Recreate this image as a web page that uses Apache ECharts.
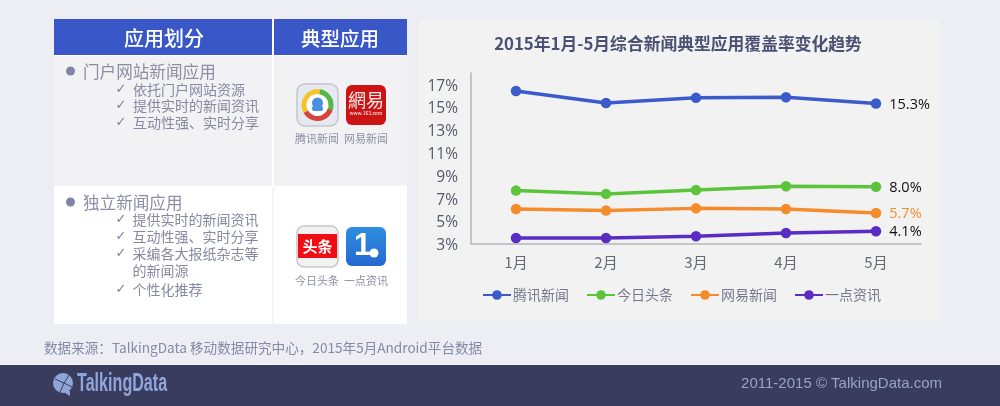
<!DOCTYPE html>
<html><head><meta charset="utf-8">
<style>html,body{margin:0;padding:0;background:#eceef3}#c{width:1000px;height:406px}</style>
<script src="https://cdn.jsdelivr.net/npm/echarts@6/dist/echarts.min.js"></script>
</head><body><div id="c"></div>
<script>
const categories = ['1月','2月','3月','4月','5月'];
const tencent = [16.4,15.35,15.8,15.85,15.3];
const toutiao = [7.66,7.37,7.72,8.04,8.0];
const netease = [6.04,5.92,6.1,6.04,5.7];
const yidian = [3.5,3.5,3.65,3.94,4.1];
const endLabels = ['15.3%','8.0%','5.7%','4.1%'];
const seriesNames = ['腾讯新闻','今日头条','网易新闻','一点资讯'];
const headers = ['应用划分','典型应用'];
const group1 = '门户网站新闻应用';
const group1Items = ['依托门户网站资源','提供实时的新闻资讯','互动性强、实时分享'];
const group2 = '独立新闻应用';
const group2Items = ['提供实时的新闻资讯','互动性强、实时分享','采编各大报纸杂志等','的新闻源','个性化推荐'];
const titleText = '2015年1月-5月综合新闻典型应用覆盖率变化趋势';
const sourceText = '数据来源：TalkingData 移动数据研究中心，2015年5月Android平台数据';
const footerText = '2011-2015 © TalkingData.com';
const logoText = 'TalkingData';

const CJK = '"Noto Sans CJK SC","Noto Sans",sans-serif';
const colors = ['#3a5bc9','#5cc43c','#f58c2b','#5a2cc4'];
const rect = (x,y,w,h,fill,r,stroke) => ({type:'rect',shape:{x,y,width:w,height:h,r:r||0},style:{fill,stroke:stroke||null,lineWidth:stroke?1.5:0}});
const txt = (x,y,text,size,fill,opt) => ({type:'text',x,y,style:Object.assign({text,fill,font:`${size}px ${CJK}`,textAlign:'left',textVerticalAlign:'middle'},opt||{})});
const sector = (cx,cy,r0,r,a,b,fill) => ({type:'sector',shape:{cx,cy,r0,r,startAngle:a*Math.PI/180,endAngle:b*Math.PI/180},style:{fill}});
const circle = (cx,cy,r,fill) => ({type:'circle',shape:{cx,cy,r},style:{fill}});
const ln = (x1,y1,x2,y2,stroke,w) => ({type:'line',shape:{x1,y1,x2,y2},style:{stroke,lineWidth:w}});

const g = [];
// panels
g.push(rect(54,19,353,305,'#ffffff'));
g.push(rect(54,19,218,36,'#3a57c8'), rect(274,19,133,36,'#3a57c8'));
g.push(rect(54,56,218,130,'#f2f2f4'), rect(274,56,133,130,'#f2f2f4'));
g.push(rect(272,187,2,137,'#f5f5f8'));
g.push(rect(419,20,520,300,'#f2f2f3'));
g.push(rect(0,364,1000,1,'#f4f5f8'), rect(0,365,1000,41,'#3a3c5e'));
// headers
g.push(txt(164,38.5,headers[0],20,'#fff',{textAlign:'center',font:`500 20px ${CJK}`}), txt(340,38.5,headers[1],19.5,'#fff',{textAlign:'center',font:`500 19.5px ${CJK}`}));
// group texts
const textCol='#8a8fa6', subCol='#868aa0', checkCol='#7b8098';
const check = y => txt(115.5,y,'✓',13,checkCol,{font:'13px "DejaVu Sans"'});
g.push(circle(70.5,71,4.5,'#7f84a9'), txt(83,72,group1,16.6,textCol));
[89.5,106,122.5].forEach((y,i)=>{g.push(check(y), txt(133,y,group1Items[i],14,subCol));});
g.push(circle(70.5,202,4.5,'#7f84a9'), txt(83,203,group2,16.6,textCol));
[220,237,254,271,290].forEach((y,i)=>{ if(i!==3) g.push(check(y)); g.push(txt(132.5,y,group2Items[i],14,subCol));});
// tencent icon
g.push(rect(297,84,41,42,'#e6e9f2',8,'#c4c6cc'));
g.push(circle(317.5,105,12,'#fff'));
g.push(sector(317.5,105,11,16,150,290,'#f5c42c'), sector(317.5,105,11,16,280,390,'#54b848'), sector(317.5,105,11,16,20,150,'#d9443a'));
g.push(circle(317.5,103,5.5,'#4a90e2'), rect(312,106,11,5,'#4a90e2',2));
// netease icon
g.push(rect(346,85,40,40,'#cc1414',6));
g.push(txt(366,100,'網易',18,'#fbe9e9',{textAlign:'center',font:`18px ${CJK}`}), txt(366,113.5,'www.163.com',5,'#fff',{textAlign:'center'}));
g.push(txt(317,139,seriesNames[0],11,'#8c90a6',{textAlign:'center'}), txt(366,139,seriesNames[2],11,'#8c90a6',{textAlign:'center'}));
// toutiao icon
g.push(rect(297,226,41,41,'#f2f2f2',7,'#c8c8c8'));
g.push(rect(298,234,39,24,'#f20d14'));
g.push(txt(317.5,246,'头条',15,'#fff',{textAlign:'center',font:`bold 15px ${CJK}`}));
// yidian icon
g.push({type:'rect',shape:{x:346,y:227,width:40,height:39,r:6},style:{fill:{type:'linear',x:0,y:0,x2:0,y2:1,colorStops:[{offset:0,color:'#2f8ee0'},{offset:1,color:'#2468d0'}]}}});
g.push(txt(354,246,'1',31,'#fff',{font:'bold 31px "Liberation Sans"'}), circle(374,253,4.5,'#fff'));
g.push(txt(317,281,seriesNames[1],11,'#8c90a6',{textAlign:'center'}), txt(366,281,seriesNames[3],11,'#8c90a6',{textAlign:'center'}));
// source and footer
g.push(txt(44,348,sourceText,13.6,'#8489a8'));
g.push(txt(942,384,footerText,15,'#9aa3c2',{textAlign:'right',font:'15px "Liberation Sans",sans-serif'}));
// logo
g.push(circle(63,383,10,'#8fa6d9'));
g.push({type:'polygon',shape:{points:[[62,391],[70,391],[70,396]]},style:{fill:'#8fa6d9'}});
g.push(ln(55,379,64,383,'#3a3c5e',1), ln(64,383,60,392,'#3a3c5e',1), ln(64,383,69,375,'#3a3c5e',1), ln(64,383,72,387,'#3a3c5e',1));
g.push(Object.assign(txt(77,384,logoText,26,'#8fa6d9',{font:'bold 26px "Liberation Sans"'}),{scaleX:0.62}));

const mk = (name,data,i) => ({
  name,type:'line',data,symbol:'circle',symbolSize:10.5,itemStyle:{color:colors[i]},
  lineStyle:{width:3.5,color:colors[i]},
  label:{show:true,position:'right',distance:8,offset:[0,1],fontSize:14.5,fontFamily:'"Open Sans",sans-serif',
    color:i===2?'#f58c2b':'#111',
    formatter:p=>p.dataIndex===categories.length-1?endLabels[i]:''},
  animation:false
});

echarts.init(document.getElementById('c'),null,{renderer:'canvas'}).setOption({
  animation:false,
  backgroundColor:'#eceef3',
  graphic:{elements:g.map(e=>Object.assign(e,{silent:true}))},
  title:{text:titleText,left:673,top:28,textAlign:'center',textStyle:{fontFamily:CJK,fontSize:16.8,fontWeight:'bold',color:'#4b5172',lineHeight:22}},
  legend:{left:477,top:283,itemWidth:28,itemHeight:12,itemGap:17,data:seriesNames,textStyle:{fontFamily:CJK,fontSize:14,color:'#74788a',padding:[0,0,0,-3]}},
  grid:{left:471,right:79,top:73,bottom:162.3,containLabel:false},
  xAxis:{type:'category',data:categories,boundaryGap:true,
    axisLine:{lineStyle:{color:'#b5b6ba',width:1.5}},axisTick:{show:false},
    axisLabel:{margin:11,fontSize:15,fontFamily:CJK,color:'#666a78'}},
  yAxis:{type:'value',min:3,max:17.98,interval:2,
    axisLine:{show:true,lineStyle:{color:'#b5b6ba',width:1.5}},axisTick:{show:false},splitLine:{show:false},
    axisLabel:{margin:13,verticalAlign:'top',lineHeight:16,padding:[-6,0,0,0],showMaxLabel:false,fontSize:15.5,fontFamily:'"Open Sans",sans-serif',color:'#555967',formatter:'{value}%'}},
  series:[mk(seriesNames[0],tencent,0),mk(seriesNames[1],toutiao,1),mk(seriesNames[2],netease,2),mk(seriesNames[3],yidian,3)]
});
</script></body></html>
